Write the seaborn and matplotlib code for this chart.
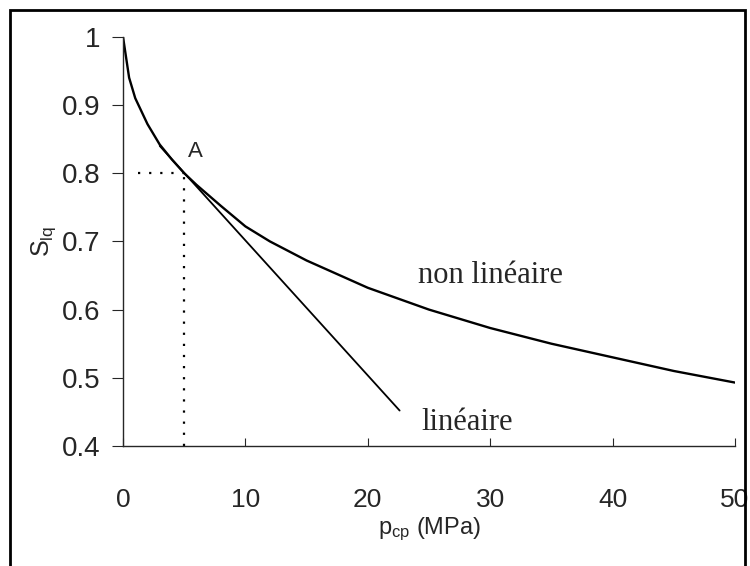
import matplotlib
matplotlib.use("Agg")
import matplotlib.pyplot as plt
import seaborn as sns
import pandas as pd
from matplotlib.patches import Rectangle

# Data
p_nonlin = [0, 0.5, 1, 2, 3, 4, 5, 6, 8, 10, 12, 15, 20, 25, 30, 35, 40, 45, 50]
s_nonlin = [1.0, 0.94, 0.91, 0.872, 0.842, 0.82, 0.80, 0.783, 0.752, 0.722, 0.70, 0.672, 0.632, 0.60, 0.573, 0.55, 0.53, 0.51, 0.493]
p_lin = [3.0, 22.6]
s_lin = [0.84, 0.452]
point_A = (5, 0.8)
xticks = [0, 10, 20, 30, 40, 50]
yticks = [0.4, 0.5, 0.6, 0.7, 0.8, 0.9, 1.0]
ytick_labels = ["0.4", "0.5", "0.6", "0.7", "0.8", "0.9", "1"]

sns.set_style("ticks")
plt.rcParams["font.family"] = ["Liberation Sans", "DejaVu Sans"]
plt.rcParams["mathtext.fontset"] = "custom"
plt.rcParams["mathtext.rm"] = "Liberation Sans"

fig = plt.figure(figsize=(7.5, 5.66), dpi=100)
ax = fig.add_axes([0.164, 0.212, 0.816, 0.723])

df_nl = pd.DataFrame({"p": p_nonlin, "s": s_nonlin})
df_l = pd.DataFrame({"p": p_lin, "s": s_lin})
sns.lineplot(data=df_nl, x="p", y="s", ax=ax, color="black", linewidth=1.7)
sns.lineplot(data=df_l, x="p", y="s", ax=ax, color="black", linewidth=1.3)

# dotted guide lines to point A
ax.plot([1.2, point_A[0]], [point_A[1], point_A[1]], color="black", linestyle=(0, (1, 4)), linewidth=1.6)
ax.plot([point_A[0], point_A[0]], [0.4, point_A[1]], color="black", linestyle=(0, (1, 4)), linewidth=1.6)

ax.text(5.3, 0.824, "A", fontsize=16, ha="left", va="baseline")
ax.text(24.1, 0.639, "non linéaire", fontsize=22, family=["Liberation Serif"], ha="left", va="baseline")
ax.text(24.4, 0.424, "linéaire", fontsize=22, family=["Liberation Serif"], ha="left", va="baseline")

ax.set_xlim(0, 50)
ax.set_ylim(0.4, 1.0)
ax.set_xticks(xticks)
ax.set_yticks(yticks)
ax.set_yticklabels(ytick_labels)
ax.tick_params(axis="x", labelsize=19, pad=30, direction="in", length=6)
ax.tick_params(axis="y", labelsize=20, pad=8, direction="out", length=8)
ax.set_xlabel(r"$\mathregular{p_{cp}}$ (MPa)", fontsize=17, labelpad=3)
ax.set_ylabel(r"$\mathregular{S_{lq}}$", fontsize=18, labelpad=3)
sns.despine(ax=ax)
for s in ax.spines.values():
    s.set_linewidth(1.0)

fig.patches.append(Rectangle((0.013, -0.02), 0.98, 1.002, transform=fig.transFigure,
                             fill=False, edgecolor="black", linewidth=2))

fig.savefig("out.png", dpi=100)
